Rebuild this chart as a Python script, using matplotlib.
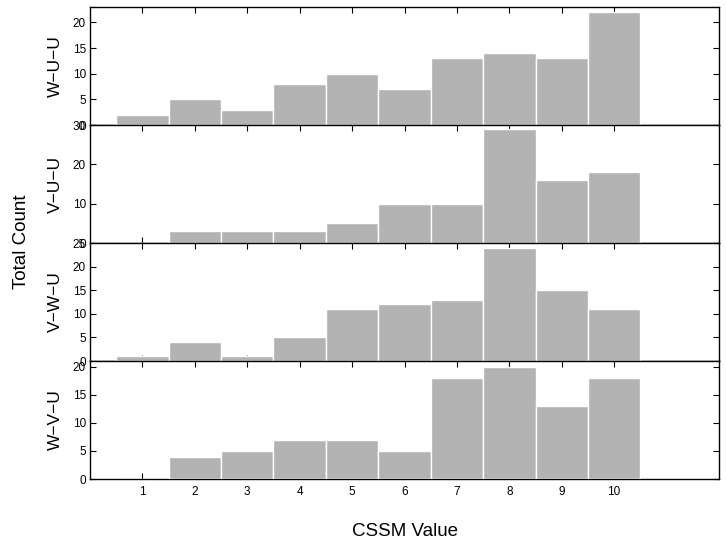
import matplotlib
matplotlib.use("Agg")
import matplotlib.pyplot as plt

plt.rcParams['font.family'] = ['Liberation Sans', 'DejaVu Sans']

# CSSM values 1..10 and counts per ordering
cssm = [1, 2, 3, 4, 5, 6, 7, 8, 9, 10]
panel_names = ['W\u2212U\u2212U', 'V\u2212U\u2212U', 'V\u2212W\u2212U', 'W\u2212V\u2212U']
wuu = [2, 5, 3, 8, 10, 7, 13, 14, 13, 22]
vuu = [0, 3, 3, 3, 5, 10, 10, 29, 16, 18]
vwu = [1, 4, 1, 5, 11, 12, 13, 24, 15, 11]
wvu = [0, 4, 5, 7, 7, 5, 18, 20, 13, 18]
y_tops = [23, 30, 25, 21]
y_steps = [5, 10, 5, 5]

series = [wuu, vuu, vwu, wvu]

fig = plt.figure(figsize=(7.26, 5.46), dpi=100)

left, width = 90 / 726, 629 / 726
top_px, h_px = 7, 118
axes = []
for i in range(4):
    bottom = 1 - (top_px + (i + 1) * h_px) / 546
    ax = fig.add_axes([left, bottom, width, h_px / 546])
    axes.append(ax)
    ax.bar(cssm, series[i], width=1.0, color='#b3b3b3', edgecolor='white',
           linewidth=1.0, zorder=3)
    ax.set_xlim(0, 12)
    ax.set_ylim(0, y_tops[i])
    ax.set_yticks(list(range(0, y_tops[i] + 1, y_steps[i])))
    ax.set_xticks(cssm)
    ax.tick_params(direction='in', length=4, width=0.8, top=True, right=True,
                   labelsize=8.5, pad=3)
    ax.tick_params(axis='x', pad=5)
    ax.set_ylabel(panel_names[i], fontsize=12.5, labelpad=7)
    for s in ax.spines.values():
        s.set_linewidth(1.0)
        s.set_zorder(2)
    if i < 3:
        ax.tick_params(labelbottom=False)

fig.text(22 / 726, 1 - 242 / 546, 'Total Count', rotation=90, ha='center',
         va='center', fontsize=13.5)
fig.text(405 / 726, 1 - 532 / 546, 'CSSM Value', ha='center', va='center',
         fontsize=13.5)

fig.savefig('out.png', dpi=100)
